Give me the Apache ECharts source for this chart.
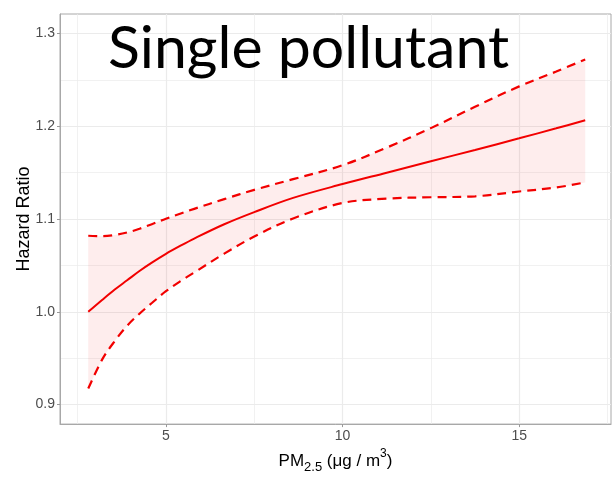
<!DOCTYPE html>
<html>
<head>
<meta charset="utf-8">
<script src="https://cdn.jsdelivr.net/npm/echarts@6/dist/echarts.min.js"></script>
<style>
html,body{margin:0;padding:0;background:#fff;}
#chart{width:613px;height:479px;}
</style>
</head>
<body>
<div id="chart"></div>
<script>
// PM2.5 concentration (ug/m3) sample points
const pm25 = [2.8, 3.2, 3.55, 3.9, 4.25, 4.6, 5.0, 5.4, 5.8, 6.65, 7.5, 8.6, 10, 11.25, 12.5, 13.75, 15, 16.05, 16.87];
// Hazard ratio estimate
const hrEstimate = [1.000, 1.013, 1.024, 1.034, 1.044, 1.053, 1.0625, 1.071, 1.079, 1.0944, 1.1075, 1.1228, 1.1377, 1.150, 1.1623, 1.1745, 1.187, 1.1978, 1.2065];
// Upper 95% CI
const hrUpper = [1.082, 1.0815, 1.0828, 1.0855, 1.0895, 1.0945, 1.1004, 1.1058, 1.111, 1.1215, 1.1315, 1.143, 1.158, 1.177, 1.198, 1.221, 1.243, 1.259, 1.272];
// Lower 95% CI
const hrLower = [0.9173, 0.949, 0.9685, 0.985, 0.998, 1.0095, 1.0222, 1.0328, 1.0424, 1.0627, 1.0812, 1.1006, 1.1173, 1.122, 1.1235, 1.1245, 1.1297, 1.134, 1.1395];
// Axis ticks
const xMajorTicks = [5, 10, 15];
const xMinorTicks = [2.5, 7.5, 12.5, 17.5];
const yMajorTicks = [0.9, 1.0, 1.1, 1.2, 1.3];
const yMinorTicks = [0.95, 1.05, 1.15, 1.25];
const xRange = [2.0, 17.6];
const yRange = [0.879, 1.321];
const titleText = 'Single pollutant';
const yAxisTitle = 'Hazard Ratio';

const RED = '#f20000';
const BAND = 'rgba(245,20,10,0.075)';
const GRID = '#ebebeb';
const BORDER = '#a8a8a8';
const SMOOTH = 0.35;

const pair = (xs, ys) => xs.map((x, i) => [x, ys[i]]);

const chart = echarts.init(document.getElementById('chart'), null, {renderer: 'canvas'});

function renderBand(params, api) {
  if (params.dataIndex !== 0) return null;
  const up = pm25.map((x, i) => api.coord([x, hrUpper[i]]));
  const lo = pm25.map((x, i) => api.coord([x, hrLower[i]])).reverse();
  const n = up.length;
  const pts = [up[0]].concat(up, [up[n - 1]], [lo[0]], lo, [lo[n - 1]]);
  return {
    type: 'polygon',
    shape: {points: pts, smooth: SMOOTH},
    style: {fill: BAND, stroke: null},
    silent: true
  };
}

const option = {
  backgroundColor: '#ffffff',
  animation: false,
  grid: {left: 60, right: 2, top: 14, bottom: 49, show: true, borderColor: BORDER, borderWidth: 1, backgroundColor: 'transparent'},
  xAxis: [
    {
      type: 'value', min: xRange[0], max: xRange[1], position: 'bottom',
      name: '{n|PM}{s|2.5}{n| (μg / m}{p|3}{n|)}',
      nameLocation: 'middle', nameGap: 20,
      nameTextStyle: {
        rich: {
          n: {fontSize: 17, fontFamily: 'Liberation Sans', color: '#000', lineHeight: 26},
          s: {fontSize: 13, fontFamily: 'Liberation Sans', color: '#000', lineHeight: 13, verticalAlign: 'bottom'},
          p: {fontSize: 12, fontFamily: 'Liberation Sans', color: '#000', lineHeight: 12, verticalAlign: 'top'}
        }
      },
      axisLine: {show: true, lineStyle: {color: BORDER, width: 1}},
      axisTick: {show: true, length: 3, lineStyle: {color: '#999', width: 1}, customValues: xMajorTicks},
      axisLabel: {show: true, customValues: xMajorTicks, margin: 5, color: '#4d4d4d', fontSize: 14, fontFamily: 'Liberation Sans'},
      splitLine: {show: true, lineStyle: {color: GRID, width: 1.2}}
    },
    {
      type: 'value', min: xRange[0], max: xRange[1], position: 'top',
      axisLine: {show: false}, axisLabel: {show: false},
      axisTick: {show: false, customValues: xMinorTicks},
      splitLine: {show: true, lineStyle: {color: GRID, width: 0.7}}
    }
  ],
  yAxis: [
    {
      type: 'value', min: yRange[0], max: yRange[1], position: 'left',
      name: yAxisTitle, nameLocation: 'middle', nameGap: 27, nameRotate: 90, nameMoveOverlap: false,
      nameTextStyle: {fontSize: 18, fontFamily: 'Liberation Sans', color: '#000'},
      axisLine: {show: true, lineStyle: {color: BORDER, width: 1}},
      axisTick: {show: true, length: 3, lineStyle: {color: '#999', width: 1}, customValues: yMajorTicks},
      axisLabel: {show: true, customValues: yMajorTicks, margin: 5, color: '#4d4d4d', fontSize: 14, fontFamily: 'Liberation Sans',
        formatter: v => v.toFixed(1)},
      splitLine: {show: true, lineStyle: {color: GRID, width: 1.2}}
    },
    {
      type: 'value', min: yRange[0], max: yRange[1], position: 'right',
      axisLine: {show: false}, axisLabel: {show: false},
      axisTick: {show: false, customValues: yMinorTicks},
      splitLine: {show: true, lineStyle: {color: GRID, width: 0.7}}
    }
  ],
  graphic: [
    {type: 'text', left: 108, top: 19, z: 100,
      style: {text: titleText, font: '59px Lato', fill: '#000'}}
  ],
  series: [
    {type: 'custom', name: 'CI band', renderItem: renderBand, data: pair(pm25, hrUpper), z: 1, silent: true},
    {type: 'line', name: 'upper', data: pair(pm25, hrUpper), smooth: SMOOTH, symbol: 'none', z: 3,
      lineStyle: {color: RED, width: 2.2, type: [9, 6]}},
    {type: 'line', name: 'lower', data: pair(pm25, hrLower), smooth: SMOOTH, symbol: 'none', z: 3,
      lineStyle: {color: RED, width: 2.2, type: [9, 6]}},
    {type: 'line', name: 'estimate', data: pair(pm25, hrEstimate), smooth: SMOOTH, symbol: 'none', z: 4,
      lineStyle: {color: RED, width: 2}}
  ]
};
chart.setOption(option);
</script>
</body>
</html>
